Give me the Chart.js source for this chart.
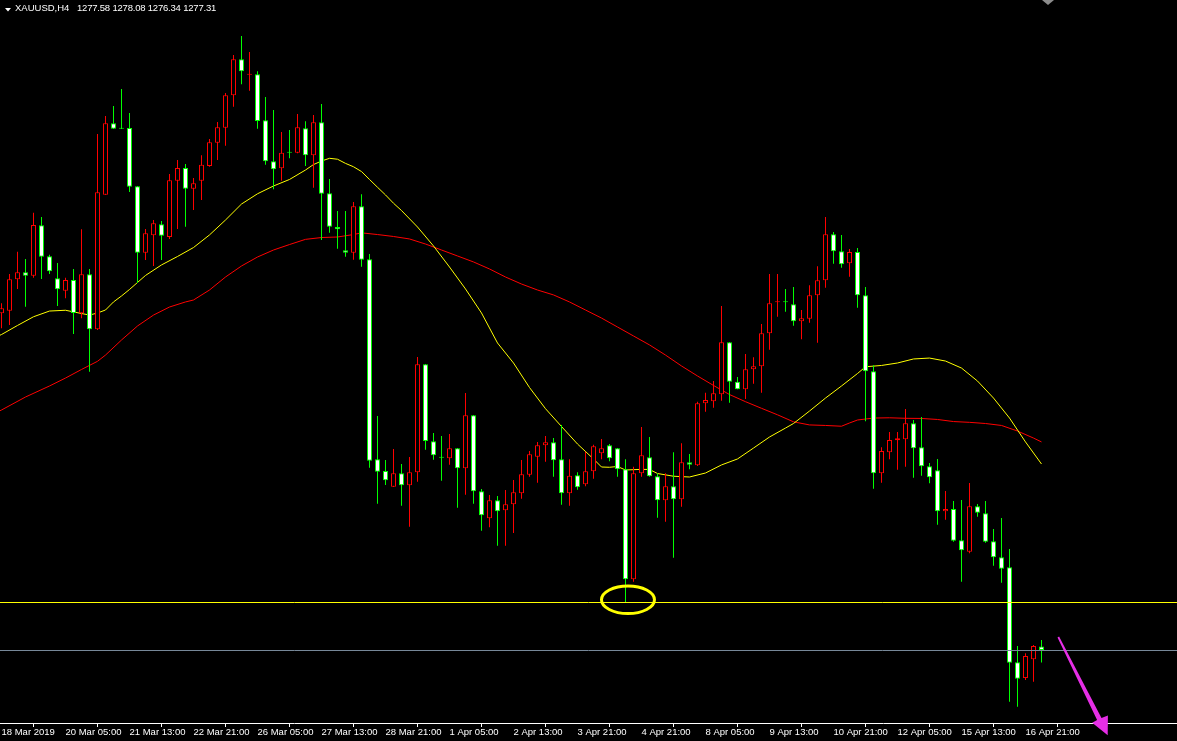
<!DOCTYPE html>
<html>
<head>
<meta charset="utf-8">
<script src="https://cdn.jsdelivr.net/npm/chart.js@4.4.1/dist/chart.umd.min.js"></script>
<style>
html,body{margin:0;padding:0;background:#000;overflow:hidden}
#wrap{position:relative;width:1177px;height:741px;background:#000}
#c{position:absolute;left:0;top:0}
.ttl{position:absolute;top:2.6px;color:#fff;font-family:"Liberation Sans",Arial,sans-serif;font-size:9.5px;line-height:10px;white-space:pre}
</style>
</head>
<body>
<div id="wrap">
<canvas id="c" width="1177" height="741"></canvas>
<span class="ttl" style="left:15px">XAUUSD,H4</span>
<span class="ttl" style="left:77px;letter-spacing:-0.2px">1277.58 1278.08 1276.34 1277.31</span>
</div>
<script>
// ---- data (XAUUSD H4 candles) ----
const open = [1303.24,1303.44,1305.85,1306.39,1306.13,1310.01,1307.62,1305.93,1304.98,1305.80,
1303.24,1306.24,1302.00,1312.37,1317.87,1317.47,1317.50,1313.02,1307.90,1309.24,
1310.09,1309.11,1313.45,1314.42,1312.83,1313.45,1314.58,1316.37,1317.53,1320.02,
1322.79,1321.61,1321.64,1318.10,1314.94,1314.40,1315.63,1315.60,1317.48,1315.40,
1317.94,1312.48,1309.88,1308.09,1307.90,1311.47,1307.39,1291.99,1291.09,1289.88,
1290.92,1289.99,1290.99,1299.31,1293.38,1292.15,1292.07,1292.84,1291.30,1295.38,
1289.53,1287.45,1288.84,1288.07,1288.53,1289.38,1290.81,1292.19,1293.07,1293.30,
1291.99,1289.38,1290.76,1290.07,1291.07,1292.46,1293.07,1292.84,1291.22,1282.75,
1290.92,1292.15,1290.69,1288.84,1289.92,1288.91,1291.76,1291.53,1296.31,1296.46,
1297.00,1301.00,1297.97,1297.38,1298.92,1299.16,1301.70,1304.08,1304.13,1303.93,
1302.62,1302.82,1304.62,1305.78,1309.32,1308.01,1307.09,1307.96,1304.62,1298.77,
1290.92,1292.53,1293.46,1293.53,1294.77,1292.92,1291.46,1291.15,1287.99,1288.17,
1285.76,1284.88,1288.38,1287.84,1285.68,1284.45,1283.68,1276.36,1275.15,1276.59,
1277.58];
const high = [1304.01,1306.26,1307.98,1307.42,1310.98,1310.65,1307.75,1307.11,1305.98,1306.65,
1309.70,1306.65,1317.04,1318.43,1319.20,1320.51,1318.66,1313.04,1309.73,1310.42,
1310.34,1313.96,1315.04,1314.73,1313.65,1315.40,1316.66,1317.97,1320.20,1323.13,
1324.59,1323.36,1321.87,1319.89,1318.89,1317.20,1317.35,1318.58,1318.02,1318.51,
1319.35,1313.58,1311.11,1311.11,1311.81,1312.40,1307.80,1295.33,1291.94,1292.79,
1291.63,1292.17,1299.87,1299.33,1294.02,1293.79,1293.94,1292.86,1297.10,1295.40,
1289.71,1289.25,1289.17,1289.63,1290.40,1291.94,1292.63,1293.33,1293.79,1293.63,
1294.64,1291.99,1290.99,1292.58,1293.12,1293.56,1293.17,1292.86,1291.99,1291.42,
1294.48,1293.71,1290.92,1290.92,1292.53,1293.23,1292.40,1296.43,1297.12,1298.02,
1303.80,1301.03,1298.33,1300.10,1299.85,1302.41,1306.26,1306.26,1305.11,1305.26,
1303.49,1305.39,1306.86,1310.65,1309.50,1309.27,1308.19,1308.26,1305.26,1299.23,
1292.92,1294.10,1294.10,1295.87,1295.02,1295.25,1291.71,1292.02,1289.55,1288.78,
1288.86,1290.17,1288.55,1288.78,1286.63,1287.47,1285.09,1277.62,1277.06,1277.70,
1278.08];
const low = [1302.08,1302.34,1305.11,1303.74,1305.98,1305.88,1306.26,1303.80,1304.39,1301.64,
1302.85,1298.74,1301.95,1312.35,1317.43,1317.43,1312.58,1305.57,1307.34,1306.88,
1307.34,1308.96,1309.73,1309.90,1311.19,1311.96,1314.52,1315.04,1316.14,1319.14,
1320.87,1320.38,1317.45,1314.68,1312.78,1313.45,1315.17,1315.56,1314.58,1312.91,
1308.88,1309.44,1308.21,1307.59,1307.36,1306.82,1291.35,1288.58,1290.02,1289.86,
1288.42,1286.80,1290.27,1292.73,1291.96,1290.35,1291.58,1288.27,1289.27,1288.58,
1286.50,1286.76,1285.34,1285.34,1286.32,1288.96,1290.65,1290.19,1291.81,1290.65,
1288.50,1288.42,1289.65,1289.92,1290.50,1291.99,1291.84,1290.65,1280.95,1282.57,
1290.65,1290.65,1287.50,1287.19,1284.42,1288.34,1291.22,1291.48,1295.66,1295.97,
1296.51,1296.35,1297.38,1296.64,1297.82,1297.12,1300.43,1302.97,1303.36,1302.28,
1301.23,1302.51,1300.97,1305.21,1307.06,1306.75,1306.05,1303.67,1294.92,1289.73,
1290.19,1291.99,1291.19,1291.42,1290.58,1290.73,1290.15,1286.96,1287.34,1285.65,
1282.57,1284.76,1287.57,1285.57,1283.80,1282.49,1273.33,1272.94,1275.00,1274.87,
1276.34];
const close = [1303.62,1305.85,1306.39,1306.13,1310.04,1307.59,1306.47,1305.08,1305.80,1303.26,
1306.24,1302.00,1312.55,1317.87,1317.45,1317.45,1312.98,1307.90,1309.40,1310.17,
1309.21,1313.48,1314.42,1312.83,1313.25,1314.68,1316.40,1317.56,1320.02,1322.79,
1321.87,1321.64,1318.04,1314.94,1314.32,1315.60,1315.60,1317.56,1315.40,1317.94,
1312.45,1309.90,1309.70,1307.90,1311.47,1307.36,1291.89,1291.04,1290.38,1290.92,
1289.99,1290.99,1299.31,1293.40,1292.30,1292.12,1292.84,1291.30,1295.38,1289.53,
1287.68,1288.84,1287.99,1288.53,1289.45,1290.84,1292.38,1293.07,1293.30,1291.92,
1289.38,1290.73,1289.84,1291.07,1293.00,1292.84,1292.07,1291.22,1282.75,1290.92,
1292.30,1290.69,1288.84,1289.92,1288.91,1291.76,1291.58,1296.31,1296.56,1297.08,
1301.00,1297.97,1297.38,1298.92,1299.16,1301.70,1304.01,1304.13,1304.08,1302.62,
1302.85,1304.62,1305.78,1309.32,1308.01,1307.01,1307.96,1304.62,1298.77,1290.92,
1292.63,1293.48,1293.61,1294.77,1292.84,1291.46,1290.61,1287.99,1288.17,1285.73,
1284.99,1288.38,1287.88,1285.65,1284.45,1283.57,1276.33,1275.10,1276.85,1277.62,
1277.31];

// moving averages (yellow = fast, red = slow), read at the listed bar indices
const maFastBars = [-1,0,2,4,6,8,10,11,12,13,14,15,16,18,20,22,24,26,28,30,32,34,36,38,39,40,41,42,43,44,45,46,47,48,49,50,52,54,56,58,60,62,64,66,68,70,72,74,75,76,77,78,80,81,82,84,86,88,90,92,94,96,98,99,101,103,105,107,108,110,112,114,116,118,120,122,124,126,128,130];
const maFastValues = [1301.33,1301.60,1302.30,1302.97,1303.41,1303.47,1303.22,1303.10,1303.26,1303.49,1304.11,1304.57,1305.07,1306.15,1306.96,1307.61,1308.30,1309.27,1310.42,1311.65,1312.44,1313.04,1313.54,1314.27,1314.69,1314.96,1315.17,1315.10,1314.78,1314.52,1314.15,1313.54,1312.94,1312.35,1311.71,1311.15,1309.88,1308.42,1306.80,1305.11,1303.26,1300.95,1299.41,1297.52,1295.89,1294.52,1293.17,1292.02,1291.40,1291.38,1291.44,1291.17,1291.22,1291.21,1290.90,1290.69,1290.63,1290.94,1291.56,1292.02,1292.86,1293.71,1294.40,1294.75,1295.71,1296.71,1297.64,1298.60,1299.12,1299.22,1299.41,1299.72,1299.79,1299.56,1299.02,1298.02,1296.71,1295.17,1293.33,1291.63];
const maSlowBars = [-1,0,3,6,8,10,12,13,15,17,19,21,23,24,26,28,30,32,34,36,38,40,42,44,45,47,49,51,53,55,57,59,61,63,65,67,69,71,73,75,77,79,81,83,85,87,89,91,93,95,97,99,101,103,105,106,107,109,111,113,115,117,119,121,123,125,127,129,130];
const maSlowValues = [1295.48,1295.79,1296.79,1297.64,1298.25,1298.91,1299.54,1300.02,1301.18,1302.26,1303.10,1303.72,1304.11,1304.26,1305.03,1306.03,1306.88,1307.57,1308.11,1308.53,1308.93,1309.07,1309.11,1309.30,1309.43,1309.30,1309.15,1308.96,1308.57,1308.11,1307.65,1307.19,1306.65,1306.03,1305.49,1305.03,1304.65,1304.11,1303.49,1302.87,1302.18,1301.49,1300.80,1300.02,1299.18,1298.41,1297.68,1296.98,1296.43,1295.92,1295.42,1294.88,1294.64,1294.60,1294.54,1294.79,1295.02,1295.17,1295.19,1295.15,1295.14,1295.06,1294.90,1294.84,1294.75,1294.60,1294.17,1293.63,1293.33];

// time axis labels (every 8 bars)
const tickBars = [0,8,16,24,32,40,48,56,64,72,80,88,96,104,112,120,128];
const tickLabels = ['18 Mar 2019','20 Mar 05:00','21 Mar 13:00','22 Mar 21:00','26 Mar 05:00','27 Mar 13:00','28 Mar 21:00','1 Apr 05:00','2 Apr 13:00','3 Apr 21:00','4 Apr 21:00','8 Apr 05:00','9 Apr 13:00','10 Apr 21:00','12 Apr 05:00','15 Apr 13:00','16 Apr 21:00'];

// horizontal levels and marks
const supportLevel = 1280.98;   // yellow horizontal line
const bidLevel = 1277.31;       // current price line
const circleBar = 78.31, circlePrice = 1281.18;  // yellow ellipse around the low
const arrowBar = 132.1, arrowPrice = 1278.31;    // magenta arrow start

// ---- view range ----
const xMin = -0.1875, xMax = 146.9375;
const yMin = 1271.689, yMax = 1327.36;

const UP_LINE = '#ff0000', DN_LINE = '#00ff00';
const up = open.map((o,i) => close[i] >= o);
const labelFor = {};
tickBars.forEach((b,i) => labelFor[b] = tickLabels[i]);

const overlay = {
  id: 'overlay',
  afterDatasetsDraw(chart) {
    const {ctx, chartArea, scales:{x, y}} = chart;
    ctx.save();
    ctx.lineWidth = 1;
    const ys = Math.round(y.getPixelForValue(supportLevel)) + 0.5;
    ctx.strokeStyle = '#ffff00';
    ctx.beginPath(); ctx.moveTo(chartArea.left, ys); ctx.lineTo(chartArea.right, ys); ctx.stroke();
    const yb = Math.round(y.getPixelForValue(bidLevel)) + 0.5;
    ctx.strokeStyle = '#778899';
    ctx.beginPath(); ctx.moveTo(chartArea.left, yb); ctx.lineTo(chartArea.right, yb); ctx.stroke();
    // ellipse
    ctx.strokeStyle = '#ffff00';
    ctx.lineWidth = 3;
    ctx.beginPath();
    ctx.ellipse(x.getPixelForValue(circleBar), y.getPixelForValue(circlePrice), 26.5, 13.8, 0, 0, Math.PI*2);
    ctx.stroke();
    ctx.restore();
  },
  afterDraw(chart) {
    const {ctx, scales:{x, y}} = chart;
    ctx.save();
    // arrow
    const sx = x.getPixelForValue(arrowBar), sy = y.getPixelForValue(arrowPrice);
    const pts = [[-0.8,0.5],[38.8,83.1],[33.9,85.8],[49.4,98.3],[49.6,78.6],[43.2,80.9],[0.8,-0.5]];
    ctx.fillStyle = '#e62ee6';
    ctx.beginPath();
    pts.forEach((p,i) => i ? ctx.lineTo(sx+p[0], sy+p[1]) : ctx.moveTo(sx+p[0], sy+p[1]));
    ctx.closePath(); ctx.fill();
    // title triangle
    ctx.fillStyle = '#ffffff';
    ctx.beginPath(); ctx.moveTo(5,8); ctx.lineTo(11,8); ctx.lineTo(8,11.5); ctx.closePath(); ctx.fill();
    // chart shift marker
    ctx.fillStyle = '#8c8c8c';
    ctx.beginPath(); ctx.moveTo(1042,0); ctx.lineTo(1054,0); ctx.lineTo(1048,5); ctx.closePath(); ctx.fill();
    ctx.restore();
  }
};

new Chart(document.getElementById('c'), {
  type: 'bar',
  data: {
    datasets: [
      {
        label: 'body', order: 1, grouped: false,
        data: open.map((o,i) => ({x: i, y: [o, close[i]]})),
        backgroundColor: up.map(u => u ? '#000000' : '#ffffff'),
        borderColor: up.map(u => u ? UP_LINE : DN_LINE),
        borderWidth: 1, borderSkipped: false, barThickness: 5, minBarLength: 1, inflateAmount: 0
      },
      {
        label: 'wick', order: 2, grouped: false,
        data: low.map((l,i) => ({x: i, y: [l, high[i]]})),
        backgroundColor: up.map(u => u ? UP_LINE : DN_LINE),
        borderWidth: 0, barThickness: 1, minBarLength: 1, inflateAmount: 0
      },
      {
        type: 'line', label: 'MA fast', order: 3,
        data: maFastBars.map((b,i) => ({x: b, y: maFastValues[i]})),
        borderColor: '#ffff00', borderWidth: 1, pointRadius: 0, tension: 0, fill: false
      },
      {
        type: 'line', label: 'MA slow', order: 4,
        data: maSlowBars.map((b,i) => ({x: b, y: maSlowValues[i]})),
        borderColor: '#ff0000', borderWidth: 1, pointRadius: 0, tension: 0, fill: false
      }
    ]
  },
  options: {
    responsive: false, animation: false, devicePixelRatio: 1, events: [],
    layout: {padding: {left: 0, right: 0, top: 0, bottom: 2.6}},
    plugins: {legend: {display: false}, tooltip: {enabled: false}, title: {display: false}},
    scales: {
      x: {
        type: 'linear', min: xMin, max: xMax, offset: false, bounds: 'data',
        afterBuildTicks: s => { s.ticks = tickBars.map(v => ({value: v})); },
        ticks: {
          autoSkip: false, maxRotation: 0, minRotation: 0, align: 'start', padding: 0,
          color: '#ffffff', font: {family: 'Liberation Sans', size: 9.5},
          callback: v => labelFor[v] ?? ''
        },
        grid: {display: true, drawOnChartArea: false, drawTicks: true, tickLength: 4, color: '#ffffff', lineWidth: 1},
        border: {display: true, color: '#ffffff', width: 1}
      },
      y: {display: false, min: yMin, max: yMax}
    }
  },
  plugins: [overlay]
});
</script>
</body>
</html>
